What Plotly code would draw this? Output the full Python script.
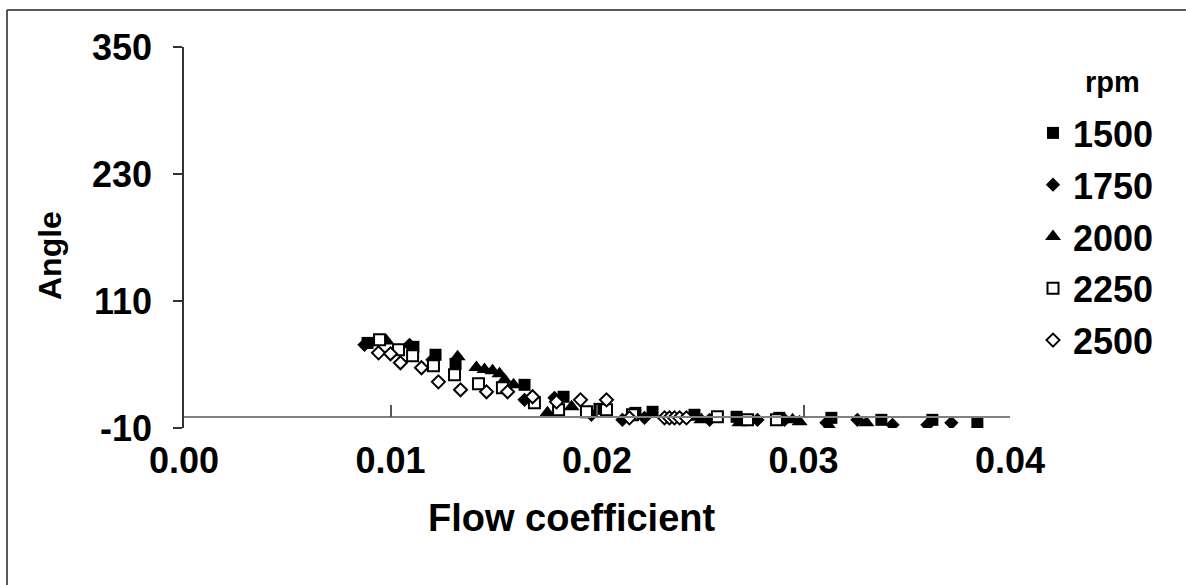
import plotly.graph_objects as go

# ---- data ----
rpm_labels = ["1500", "1750", "2000", "2250", "2500"]

x_1500 = [0.00889, 0.01111, 0.01218, 0.01315, 0.01649, 0.01838, 0.02012, 0.02186, 0.02269,
          0.02472, 0.02676, 0.02883, 0.03135, 0.03377, 0.03624, 0.03842]
y_1500 = [70.4, 66.7, 59.2, 50.6, 30.8, 19.5, 8.1, 4.3, 5.3, 2.5, 0.6, -0.4, -0.4, -2.3, -2.3, -5.1]

x_1750 = [0.00874, 0.01092, 0.01203, 0.01649, 0.01794, 0.01973, 0.02123, 0.02230, 0.02545,
          0.02777, 0.02908, 0.03111, 0.03261, 0.03431, 0.03600, 0.03716]
y_1750 = [68.6, 68.6, 54.4, 16.6, 18.5, 2.5, -2.3, -0.4, -2.3, -2.3, -2.3, -5.1, -2.3, -7.0, -7.0, -5.1]

x_2000 = [0.00981, 0.01325, 0.01416, 0.01455, 0.01494, 0.01528, 0.01552, 0.01596, 0.01760,
          0.01877, 0.02506, 0.02690, 0.02947, 0.02981, 0.03126, 0.03305]
y_2000 = [72.3, 57.3, 47.1, 45.2, 44.2, 41.2, 35.5, 30.8, 4.3, 10.0, -2.3, -5.1, -2.3, -4.2, -8.9, -5.1]

x_2250 = [0.00947, 0.01039, 0.01107, 0.01208, 0.01310, 0.01426, 0.01542, 0.01697, 0.01814,
          0.01949, 0.02046, 0.02172, 0.02583, 0.02729, 0.02869]
y_2250 = [73.3, 63.9, 58.2, 48.8, 40.3, 31.7, 28.0, 13.8, 7.2, 5.3, 7.2, 2.5, 0.6, -2.3, -2.3]

x_2500 = [0.00942, 0.01000, 0.01048, 0.01150, 0.01232, 0.01339, 0.01465, 0.01567, 0.01688,
          0.01804, 0.01920, 0.02046, 0.02157, 0.02327, 0.02351, 0.02375, 0.02400, 0.02433]
y_2500 = [61.0, 60.1, 51.6, 46.9, 33.6, 26.1, 24.2, 24.2, 19.5, 14.7, 16.6, 16.6, -0.4,
          -0.4, -0.4, -0.4, -0.4, -0.4]

x_ticks = [0.00, 0.01, 0.02, 0.03, 0.04]
x_tick_text = ["0.00", "0.01", "0.02", "0.03", "0.04"]
y_ticks = [-10, 110, 230, 350]
y_tick_text = ["-10", "110", "230", "350"]

series = [
    (rpm_labels[0], x_1500, y_1500, "square", "black", 12),
    (rpm_labels[1], x_1750, y_1750, "diamond", "black", 11),
    (rpm_labels[2], x_2000, y_2000, "triangle-up", "black", 14),
    (rpm_labels[3], x_2250, y_2250, "square", "white", 11),
    (rpm_labels[4], x_2500, y_2500, "diamond", "white", 10),
]

FONT = "Liberation Sans, Arial, sans-serif"

fig = go.Figure()
for name, xs, ys, sym, fill, sz in series:
    fig.add_trace(go.Scatter(
        x=xs, y=ys, mode="markers", name=name, legendgroup=name,
        marker=dict(symbol=sym, size=sz, color=fill,
                    line=dict(color="black", width=2 if fill == "white" else 0)),
    ))

# invisible trace on the axis that draws the zero line with its tick marks
fig.add_trace(go.Scatter(x=[None], y=[None], xaxis="x2", showlegend=False, hoverinfo="skip"))

W, H = 1186, 585
L, R, T, B = 184, 176, 47, 157
pw, ph = W - L - R, H - T - B

def px_x(p):
    return (p - L) / pw

def px_y(p):
    return (H - B - p) / ph

fig.update_layout(
    width=W, height=H,
    margin=dict(l=L, r=R, t=T, b=B, pad=0),
    paper_bgcolor="white", plot_bgcolor="white",
    font=dict(family=FONT, color="black", size=36, weight="bold"),
    showlegend=True,
    legend=dict(x=px_x(1033), xanchor="left", y=px_y(103), yanchor="top",
                font=dict(family=FONT, size=36, weight="bold"),
                bgcolor="rgba(0,0,0,0)", itemwidth=30, tracegroupgap=2),
    xaxis=dict(range=[0, 0.04], tickvals=x_ticks, ticktext=x_tick_text,
               showline=False, showgrid=False, zeroline=False, ticks="",
               ticklabelstandoff=8,
               tickfont=dict(family=FONT, size=36, weight="bold")),
    xaxis2=dict(range=[0, 0.04], overlaying="x", anchor="free",
                position=(0 - y_ticks[0]) / (y_ticks[-1] - y_ticks[0]),
                tickvals=x_ticks[1:], showticklabels=False,
                showline=True, linecolor="#808080", linewidth=1.5,
                ticks="inside", ticklen=12, tickcolor="#555555", tickwidth=1.5,
                showgrid=False, zeroline=False),
    yaxis=dict(range=[y_ticks[0], y_ticks[-1]], tickvals=y_ticks, ticktext=y_tick_text,
               showline=True, linecolor="#333333", linewidth=1.5,
               ticks="outside", ticklen=9, tickcolor="#333333", tickwidth=1.5,
               showgrid=False, zeroline=False, ticklabelstandoff=14,
               tickfont=dict(family=FONT, size=36, weight="bold")),
    annotations=[
        dict(text="Angle", textangle=-90, xref="paper", yref="paper",
             x=px_x(50), y=px_y(256), xanchor="center", yanchor="middle", showarrow=False,
             font=dict(family=FONT, size=32, weight="bold")),
        dict(text="Flow coefficient", xref="paper", yref="paper",
             x=px_x(571), y=px_y(518), xanchor="center", yanchor="middle", showarrow=False,
             font=dict(family=FONT, size=38, weight="bold")),
        dict(text="rpm", xref="paper", yref="paper",
             x=px_x(1112), y=px_y(82), xanchor="center", yanchor="middle", showarrow=False,
             font=dict(family=FONT, size=29, weight="bold")),
    ],
    shapes=[
        dict(type="line", xref="paper", yref="paper",
             x0=px_x(7), x1=px_x(1186), y0=px_y(10), y1=px_y(10),
             line=dict(color="#222222", width=1.5), layer="below"),
        dict(type="line", xref="paper", yref="paper",
             x0=px_x(7), x1=px_x(7), y0=px_y(10), y1=px_y(585),
             line=dict(color="#222222", width=1.5), layer="below"),
    ],
)

fig.write_html("out.html")
